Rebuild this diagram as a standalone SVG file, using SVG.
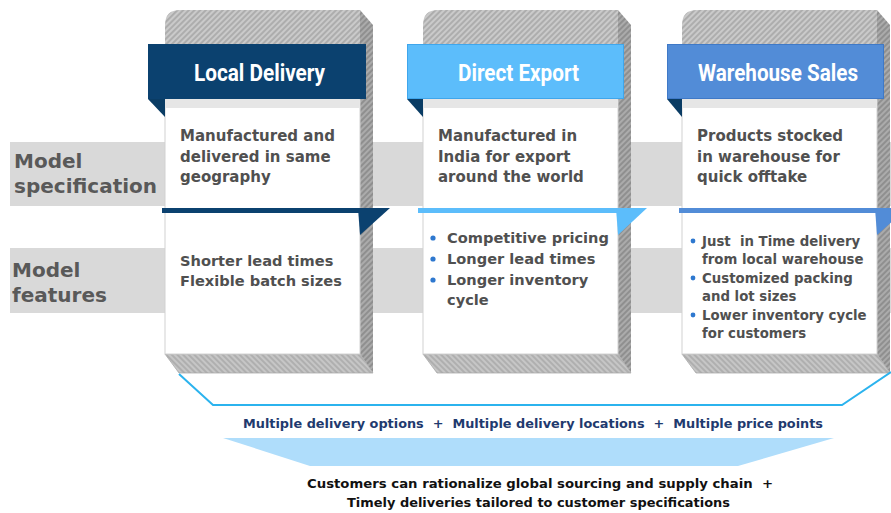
<svg xmlns="http://www.w3.org/2000/svg" width="891" height="513" viewBox="0 0 891 513">
<defs>
<pattern id="hTop" width="4" height="4" patternUnits="userSpaceOnUse" patternTransform="rotate(45)">
<rect width="4" height="4" fill="#CACACA"/><line x1="1" y1="0" x2="1" y2="4" stroke="#A6A6A6" stroke-width="1.6"/>
</pattern>
<pattern id="hSide" width="4" height="4" patternUnits="userSpaceOnUse" patternTransform="rotate(45)">
<rect width="4" height="4" fill="#ABABAB"/><line x1="1" y1="0" x2="1" y2="4" stroke="#888888" stroke-width="1.6"/>
</pattern>
<pattern id="hBot" width="4" height="4" patternUnits="userSpaceOnUse" patternTransform="rotate(-45)">
<rect width="4" height="4" fill="#C6C6C6"/><line x1="1" y1="0" x2="1" y2="4" stroke="#A9A9A9" stroke-width="1.6"/>
</pattern>
<g id="box">
<path d="M0,89 V15 Q0,0 15,0 H195 V89 Z" fill="url(#hTop)"/>
<path d="M195,0 L208,15 V363 L195,344 Z" fill="url(#hSide)"/>
<path d="M0,344 H195 L208,363 H14 Z" fill="url(#hBot)" stroke="#AAAAAA" stroke-width="0.8"/>
<rect x="0" y="89" width="195" height="255" fill="#FFFFFF" stroke="#D2D2D2" stroke-width="1"/>
<rect x="0.5" y="89" width="194" height="9" fill="#E6E6E6"/>
</g>
</defs>
<style>
.band{fill:#D9D9D9}
.lbl{font-family:"DejaVu Sans",sans-serif;font-weight:bold;font-size:20px;fill:#595959}
.ttl{font-family:Roboto,"Liberation Sans",sans-serif;font-weight:bold;font-size:24px;fill:#FFFFFF}
.body{font-family:"DejaVu Sans",sans-serif;font-weight:bold;font-size:15px;fill:#505050}
.feat{font-family:"DejaVu Sans",sans-serif;font-weight:bold;font-size:14.6px;fill:#505050}
.small{font-family:"DejaVu Sans",sans-serif;font-weight:bold;font-size:13.3px;fill:#505050}
.dot{fill:#2E78CF}
.fold{fill:#0A3C64}
.sum{font-family:"DejaVu Sans",sans-serif;font-weight:bold;font-size:12.5px;fill:#1F3A6E}
.out{font-family:"DejaVu Sans",sans-serif;font-weight:bold;font-size:12.5px;fill:#111111}
</style>

<g id="bands">
<rect class="band" x="10" y="142" width="881" height="64"/>
<rect class="band" x="10" y="248" width="881" height="65"/>
</g>

<g id="label-spec">
<text class="lbl" x="14" y="168">Model</text>
<text class="lbl" x="14" y="193">specification</text>
</g>
<g id="label-features">
<text class="lbl" x="12" y="277">Model</text>
<text class="lbl" x="12" y="302">features</text>
</g>

<g id="col-local">
<use href="#box" x="165" y="10"/>
<rect x="148" y="44" width="218" height="55" fill="#0B416F"/>
<polygon class="fold" points="148,99 165,99 165,117"/>
<text class="ttl" x="259.5" y="81" text-anchor="middle" textLength="131" lengthAdjust="spacingAndGlyphs">Local Delivery</text>
<rect x="162" y="208" width="198" height="5" fill="#0B416F"/>
<polygon points="358,208 390,208 360,235" fill="#0B416F"/>
<text class="body" x="180" y="141">Manufactured and</text>
<text class="body" x="180" y="161.5">delivered in same</text>
<text class="body" x="180" y="182">geography</text>
<text class="feat" x="180" y="266">Shorter lead times</text>
<text class="feat" x="180" y="286">Flexible batch sizes</text>
</g>

<g id="col-export">
<use href="#box" x="423" y="10"/>
<rect x="407.5" y="44.5" width="216" height="54" fill="#5CBDFB" stroke="#3FA6EC" stroke-width="1"/>
<polygon class="fold" points="407,99 423,99 423,117"/>
<text class="ttl" x="518.5" y="81" text-anchor="middle" textLength="121" lengthAdjust="spacingAndGlyphs">Direct Export</text>
<rect x="418" y="208" width="200" height="5" fill="#5CBDFB"/>
<polygon points="616,208 647,208 618,235" fill="#5CBDFB"/>
<text class="body" x="438" y="141">Manufactured in</text>
<text class="body" x="438" y="161.5">India for export</text>
<text class="body" x="438" y="182">around the world</text>
<circle class="dot" cx="433" cy="238" r="2.6"/>
<text class="feat" x="447" y="243">Competitive pricing</text>
<circle class="dot" cx="433" cy="259" r="2.6"/>
<text class="feat" x="447" y="264">Longer lead times</text>
<circle class="dot" cx="433" cy="280" r="2.6"/>
<text class="feat" x="447" y="285">Longer inventory</text>
<text class="feat" x="447" y="305">cycle</text>
</g>

<g id="col-warehouse">
<use href="#box" x="682" y="10"/>
<rect x="667.5" y="44.5" width="216" height="54" fill="#528CD7" stroke="#3F79C7" stroke-width="1"/>
<polygon class="fold" points="667,99 682,99 682,117"/>
<text class="ttl" x="778" y="81" text-anchor="middle" textLength="160" lengthAdjust="spacingAndGlyphs">Warehouse Sales</text>
<rect x="679" y="208" width="198" height="5" fill="#528CD7"/>
<polygon points="875,208 907,208 877,235" fill="#528CD7"/>
<text class="body" x="697" y="141">Products stocked</text>
<text class="body" x="697" y="161.5">in warehouse for</text>
<text class="body" x="697" y="182">quick offtake</text>
<circle class="dot" cx="693" cy="241" r="2.4"/>
<text class="small" x="702" y="246" style="white-space:pre">Just  in Time delivery</text>
<text class="small" x="702" y="264">from local warehouse</text>
<circle class="dot" cx="693" cy="278" r="2.4"/>
<text class="small" x="702" y="283">Customized packing</text>
<text class="small" x="702" y="301">and lot sizes</text>
<circle class="dot" cx="693" cy="315" r="2.4"/>
<text class="small" x="702" y="320">Lower inventory cycle</text>
<text class="small" x="702" y="338">for customers</text>
</g>

<g id="connectors">
<path d="M179,374 L213,405 H842 L891,372" fill="none" stroke="#2BB3EE" stroke-width="2"/>
<polygon points="223,438 834,438 738,466 310,466" fill="#AFDDFB"/>
</g>

<g id="summary">
<text class="sum" x="533" y="428" text-anchor="middle" textLength="580" lengthAdjust="spacingAndGlyphs" style="white-space:pre">Multiple delivery options  +  Multiple delivery locations  +  Multiple price points</text>
</g>
<g id="outcome">
<text class="out" x="540" y="488" text-anchor="middle" textLength="466" lengthAdjust="spacingAndGlyphs" style="white-space:pre">Customers can rationalize global sourcing and supply chain  +</text>
<text class="out" x="538.5" y="507" text-anchor="middle" textLength="383" lengthAdjust="spacingAndGlyphs">Timely deliveries tailored to customer specifications</text>
</g>
</svg>
